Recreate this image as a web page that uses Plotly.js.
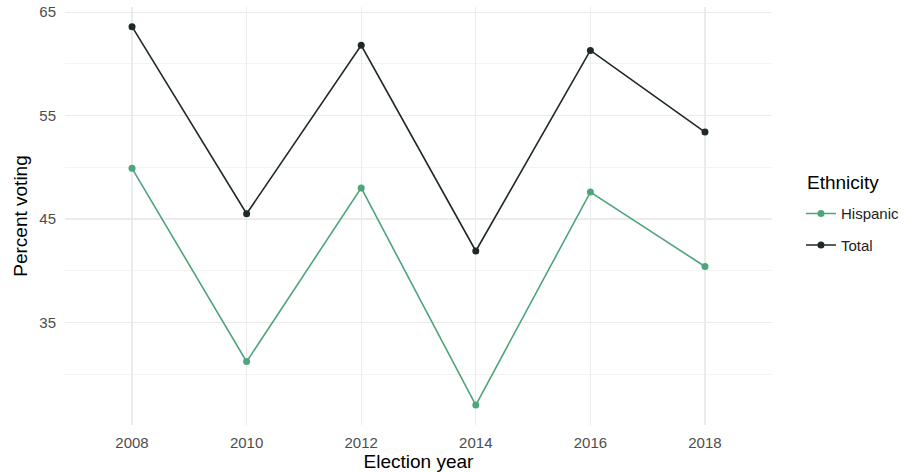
<!DOCTYPE html>
<html><head><meta charset="utf-8">
<script src="https://cdn.plot.ly/plotly-3.0.1.min.js"></script>
<style>html,body{margin:0;padding:0;background:#fff}#c{width:919px;height:472px}</style>
</head><body><div id="c"></div>
<script>
const years = [2008, 2010, 2012, 2014, 2016, 2018];
const hispanic = [49.9, 31.2, 48.0, 27.0, 47.6, 40.4];
const total = [63.6, 45.5, 61.8, 41.9, 61.3, 53.4];
const yTicks = [35, 45, 55, 65];
const yMinor = [30, 40, 50, 60];
const xTicks = [2008, 2010, 2012, 2014, 2016, 2018];

const traces = [
  {x: years, y: hispanic, name: 'Hispanic', mode: 'lines+markers', legendgroup: 'a',
   line: {color: '#4ea57b', width: 1.6}, marker: {color: '#4ea57b', size: 7}},
  {x: years, y: total, name: 'Total', mode: 'lines+markers', legendgroup: 'b',
   line: {color: '#1f2a25', width: 1.6}, marker: {color: '#1f2a25', size: 7}}
];

const layout = {
  width: 919, height: 472,
  margin: {l: 65, r: 147, t: 7, b: 47},
  paper_bgcolor: '#fff', plot_bgcolor: '#fff',
  font: {family: 'Liberation Sans, Arial, sans-serif', color: '#000'},
  xaxis: {
    range: [2006.83, 2019.17], tickvals: xTicks, ticktext: xTicks.map(String),
    showgrid: true, gridcolor: '#ebebeb', gridwidth: 1.1, zeroline: false, showline: false,
    ticks: 'outside', ticklen: 4, tickcolor: 'rgba(0,0,0,0)', tickfont: {size: 15, color: '#4d4d4d'},
    title: {text: 'Election year', font: {size: 19, color: '#000'}, standoff: 2}
  },
  yaxis: {
    range: [25.07, 65.5], tickvals: yTicks, ticktext: yTicks.map(String),
    showgrid: true, gridcolor: '#ebebeb', gridwidth: 1.1, zeroline: false, showline: false,
    minor: {tickvals: yMinor, showgrid: true, gridcolor: '#f3f3f3', gridwidth: 1},
    ticks: 'outside', ticklen: 5, tickcolor: 'rgba(0,0,0,0)', tickfont: {size: 15, color: '#4d4d4d'},
    title: {text: 'Percent voting', font: {size: 19, color: '#000'}, standoff: 6}
  },
  showlegend: true,
  legend: {
    x: 1.041, xanchor: 'left', y: 0.545, yanchor: 'top',
    font: {size: 15, color: '#222'}, tracegroupgap: 9, bgcolor: 'rgba(0,0,0,0)'
  },
  annotations: [{
    text: 'Ethnicity', xref: 'paper', yref: 'paper', x: 1.047, y: 0.581,
    xanchor: 'left', yanchor: 'middle', showarrow: false, font: {size: 19, color: '#000'}
  }]
};
Plotly.newPlot('c', traces, layout, {displayModeBar: false, staticPlot: true});
</script></body></html>
